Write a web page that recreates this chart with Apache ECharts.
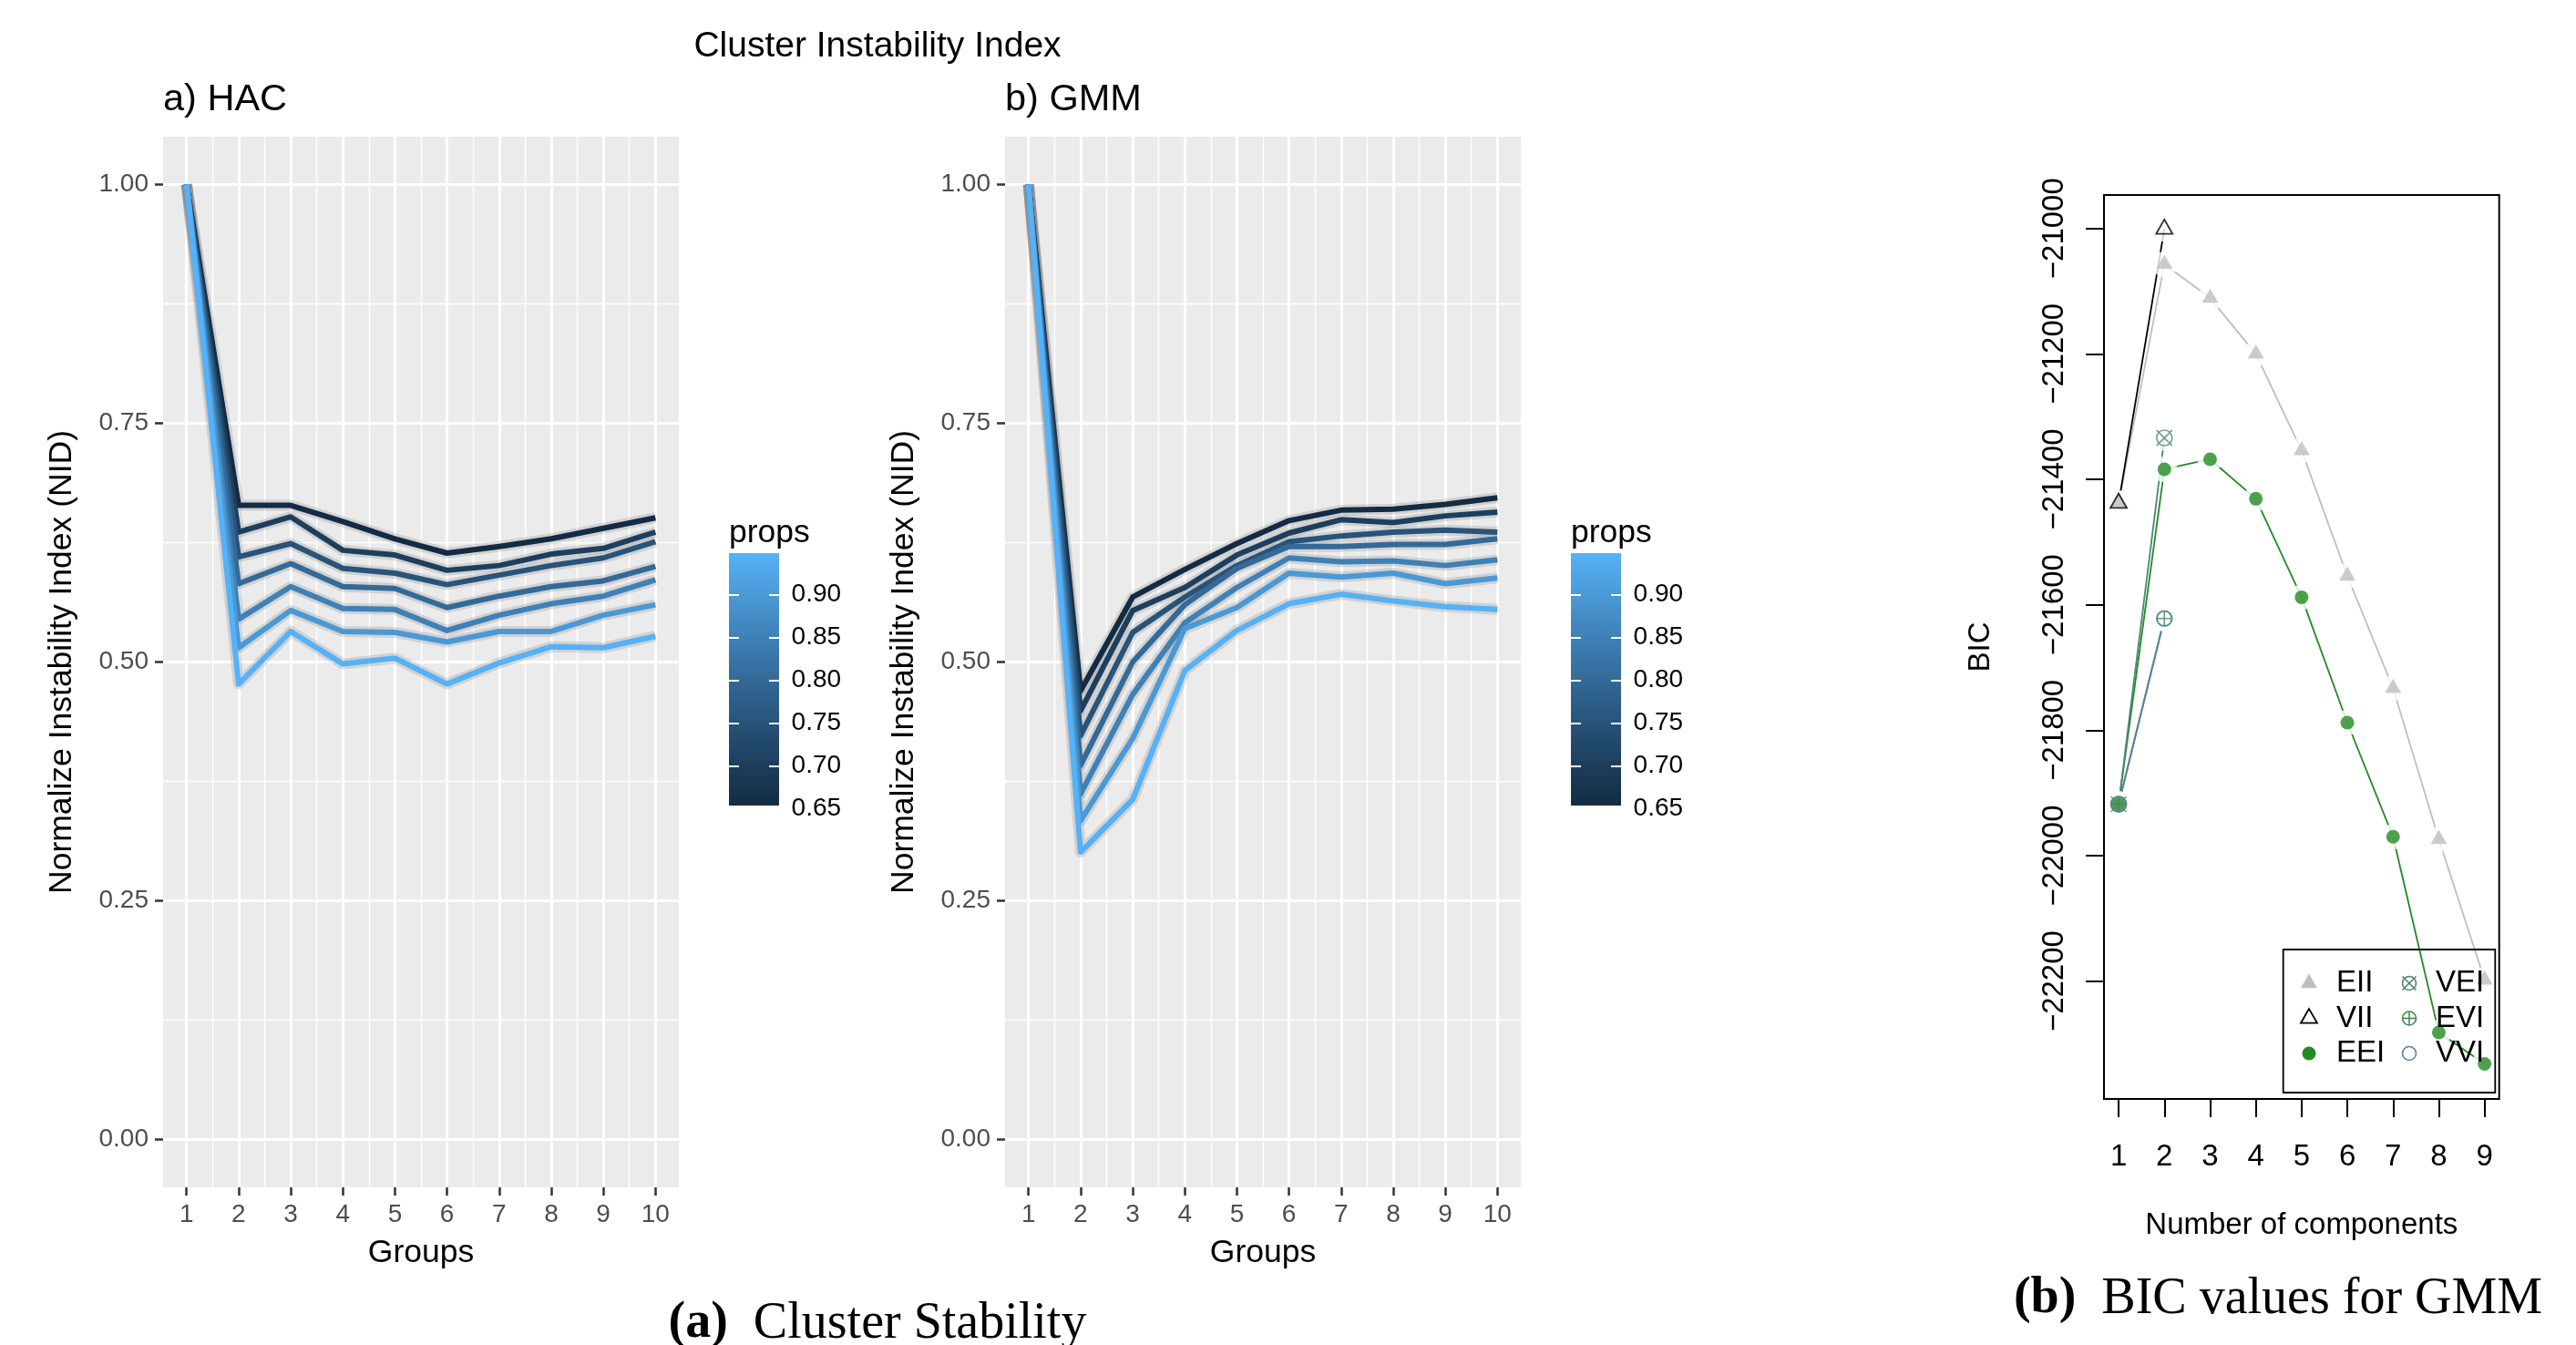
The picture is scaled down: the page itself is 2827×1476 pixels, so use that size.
<!DOCTYPE html>
<html><head><meta charset="utf-8">
<script src="https://cdn.jsdelivr.net/npm/echarts@6/dist/echarts.min.js"></script>
<style>html,body{margin:0;padding:0;background:#fff}#c{width:2827px;height:1476px}</style>
</head><body><div id="c"></div>
<script>
// ---------------- DATA ----------------
const groups = [1, 2, 3, 4, 5, 6, 7, 8, 9, 10];
const props = [0.65, 0.70, 0.75, 0.80, 0.85, 0.90, 0.95];

const hac_065 = [1.000, 0.664, 0.664, 0.647, 0.629, 0.614, 0.621, 0.629, 0.640, 0.651];
const hac_070 = [1.000, 0.636, 0.652, 0.617, 0.612, 0.596, 0.601, 0.613, 0.619, 0.636];
const hac_075 = [1.000, 0.610, 0.624, 0.598, 0.593, 0.581, 0.591, 0.601, 0.609, 0.626];
const hac_080 = [1.000, 0.582, 0.603, 0.579, 0.577, 0.557, 0.569, 0.579, 0.585, 0.600];
const hac_085 = [1.000, 0.545, 0.579, 0.556, 0.555, 0.533, 0.549, 0.561, 0.569, 0.586];
const hac_090 = [1.000, 0.515, 0.554, 0.532, 0.531, 0.521, 0.532, 0.532, 0.549, 0.560];
const hac_095 = [1.000, 0.477, 0.532, 0.498, 0.504, 0.477, 0.499, 0.516, 0.515, 0.527];

const gmm_065 = [1.000, 0.470, 0.568, 0.597, 0.624, 0.648, 0.659, 0.660, 0.665, 0.672];
const gmm_070 = [1.000, 0.449, 0.554, 0.578, 0.612, 0.635, 0.649, 0.646, 0.653, 0.657];
const gmm_075 = [1.000, 0.423, 0.531, 0.568, 0.601, 0.626, 0.632, 0.636, 0.638, 0.636];
const gmm_080 = [1.000, 0.392, 0.500, 0.560, 0.598, 0.621, 0.621, 0.623, 0.623, 0.629];
const gmm_085 = [1.000, 0.362, 0.466, 0.541, 0.578, 0.609, 0.605, 0.606, 0.601, 0.607];
const gmm_090 = [1.000, 0.334, 0.420, 0.535, 0.557, 0.593, 0.589, 0.593, 0.582, 0.588];
const gmm_095 = [1.000, 0.301, 0.356, 0.491, 0.533, 0.561, 0.571, 0.564, 0.558, 0.555];

const components = [1, 2, 3, 4, 5, 6, 7, 8, 9];
const bic_EII = [-21438, -21057, -21111, -21200, -21354, -21554, -21733, -21974, -22198];
const bic_VII = [-21438, -21001, null, null, null, null, null, null, null];
const bic_EEI = [-21918, -21384, -21368, -21431, -21588, -21788, -21970, -22282, -22332];
const bic_VEI = [-21918, -21334, null, null, null, null, null, null, null];
const bic_EVI = [-21918, -21622, null, null, null, null, null, null, null];
const bic_VVI = [-21918, -21622, null, null, null, null, null, null, null];
const bicModels = ['EII', 'VII', 'EEI', 'VEI', 'EVI', 'VVI'];

// ---------------- COLOURS (ggplot2 default gradient, Lab interpolation) ----------------
const LOW = '#132B43', HIGH = '#56B1F7';
function hexToRgb(h){h=h.replace('#','');return [0,2,4].map(i=>parseInt(h.substr(i,2),16));}
function lin(c){c/=255;return c<=0.04045?c/12.92:Math.pow((c+0.055)/1.055,2.4);}
function delin(c){c=c<=0.0031308?12.92*c:1.055*Math.pow(c,1/2.4)-0.055;return Math.max(0,Math.min(255,Math.round(c*255)));}
const WH=[0.95047,1,1.08883];
function toLab(rgb){const [r,g,b]=rgb.map(lin);
  const X=0.4124564*r+0.3575761*g+0.1804375*b, Y=0.2126729*r+0.7151522*g+0.0721750*b, Z=0.0193339*r+0.1191920*g+0.9503041*b;
  const f=t=>t>0.008856?Math.cbrt(t):7.787*t+16/116;
  const fx=f(X/WH[0]),fy=f(Y/WH[1]),fz=f(Z/WH[2]);
  return [116*fy-16,500*(fx-fy),200*(fy-fz)];}
function fromLab([L,a,b]){const fy=(L+16)/116,fx=fy+a/500,fz=fy-b/200;
  const fi=t=>t*t*t>0.008856?t*t*t:(t-16/116)/7.787;
  const X=fi(fx)*WH[0],Y=fi(fy)*WH[1],Z=fi(fz)*WH[2];
  const r=3.2404542*X-1.5371385*Y-0.4985314*Z, g=-0.9692660*X+1.8760108*Y+0.0415560*Z, bb=0.0556434*X-0.2040259*Y+1.0572252*Z;
  return 'rgb('+delin(r)+','+delin(g)+','+delin(bb)+')';}
const LAB_LO=toLab(hexToRgb(LOW)), LAB_HI=toLab(hexToRgb(HIGH));
const PMIN=0.65, PMAX=0.95;
function propColor(p){const t=(p-PMIN)/(PMAX-PMIN);return fromLab(LAB_LO.map((v,i)=>v+(LAB_HI[i]-v)*t));}
const gradientStops=[];
for(let k=0;k<=12;k++){const t=k/12;gradientStops.push({offset:t,color:propColor(PMAX-(PMAX-PMIN)*t)});}

// ---------------- LAYOUT ----------------
const FONT='"Liberation Sans", Arial, Helvetica, sans-serif';
const SERIF='"Liberation Serif", "Times New Roman", serif';
const grids=[],xAxes=[],yAxes=[],series=[],texts=[];
function addGrid(g,xa,ya){grids.push(Object.assign({outerBoundsMode:'none',containLabel:false,show:false},g));
  const gi=grids.length-1;
  xAxes.push(Object.assign({gridIndex:gi,type:'value'},xa));
  yAxes.push(Object.assign({gridIndex:gi,type:'value'},ya));
  return {gi:gi,xi:xAxes.length-1,yi:yAxes.length-1};}
const HID=(mn,mx)=>({show:false,min:mn,max:mx});

function buildPanel(left, sets, title){
  const bg=addGrid({left:left,top:150,width:566,height:1153,show:true,backgroundColor:'#EBEBEB',borderWidth:0},HID(0.55,10.45),HID(-0.05,1.05));
  addGrid({left:left,top:202.4,width:566,height:1048.2},HID(0,1),{
    min:0,max:1,interval:0.25,axisLine:{show:false},
    axisTick:{show:true,length:9,lineStyle:{color:'#333333',width:2.5}},
    axisLabel:{show:true,margin:16,fontSize:28,color:'#4D4D4D',fontFamily:FONT,formatter:v=>v.toFixed(2),showMinLabel:true,showMaxLabel:true},
    splitLine:{show:true,lineStyle:{color:'#FFFFFF',width:3}},
    minorTick:{show:false,splitNumber:2},
    minorSplitLine:{show:true,lineStyle:{color:'#FFFFFF',width:1.4}}});
  addGrid({left:left+25.73,top:150,width:514.55,height:1153},{
    min:1,max:10,interval:1,axisLine:{show:false},
    axisTick:{show:true,length:9,lineStyle:{color:'#333333',width:2.5}},
    axisLabel:{show:true,margin:16,fontSize:28,color:'#4D4D4D',fontFamily:FONT,showMinLabel:true,showMaxLabel:true},
    splitLine:{show:true,lineStyle:{color:'#FFFFFF',width:3}},
    minorTick:{show:false,splitNumber:2},
    minorSplitLine:{show:true,lineStyle:{color:'#FFFFFF',width:1.4}}},HID(0,1));
  sets.forEach(arr=>series.push({type:'line',xAxisIndex:bg.xi,yAxisIndex:bg.yi,silent:true,symbol:'none',z:2,
    data:groups.map((g,j)=>[g,arr[j]]),lineStyle:{width:12,color:'rgba(130,130,130,0.25)',join:'round'}}));
  sets.forEach((arr,i)=>series.push({type:'line',name:String(props[i]),xAxisIndex:bg.xi,yAxisIndex:bg.yi,symbol:'none',z:3,
    data:groups.map((g,j)=>[g,arr[j]]),lineStyle:{width:6,color:propColor(props[i]),join:'round'}}));
  texts.push({type:'text',x:left,y:110,z:10,style:{text:title,fontSize:41.5,fontFamily:FONT,fill:'#000',align:'left',verticalAlign:'middle'}});
  texts.push({type:'text',x:left-110.5,y:726.5,rotation:Math.PI/2,z:10,style:{text:'Normalize Instability Index (NID)',fontSize:35.5,fontFamily:FONT,fill:'#000',align:'center',verticalAlign:'middle'}});
  texts.push({type:'text',x:left+283,y:1375,z:10,style:{text:'Groups',fontSize:35.5,fontFamily:FONT,fill:'#000',align:'center',verticalAlign:'middle'}});
}
function buildColorbar(left){
  addGrid({left:left,top:607,width:55,height:277,show:true,borderWidth:0,
    backgroundColor:{type:'linear',x:0,y:0,x2:0,y2:1,colorStops:gradientStops}},HID(0,1),HID(0,1));
  const tickCommon={min:0.65,max:0.90,interval:0.05,axisLine:{show:false},splitLine:{show:false},
    axisTick:{show:true,inside:true,length:11,lineStyle:{color:'#FFFFFF',width:2}}};
  const g=addGrid({left:left,top:652.5,width:55,height:235},HID(0,1),Object.assign({position:'left',axisLabel:{show:false}},tickCommon));
  yAxes.push(Object.assign({gridIndex:g.gi,type:'value',position:'right',
    axisLabel:{show:true,margin:13.6,fontSize:28,color:'#000',fontFamily:FONT,formatter:v=>v.toFixed(2),showMinLabel:true,showMaxLabel:true}},tickCommon));
  texts.push({type:'text',x:left,y:585,z:10,style:{text:'props',fontSize:35.5,fontFamily:FONT,fill:'#000',align:'left',verticalAlign:'middle'}});
}

buildPanel(179,[hac_065,hac_070,hac_075,hac_080,hac_085,hac_090,hac_095],'a) HAC');
buildColorbar(800);
buildPanel(1103,[gmm_065,gmm_070,gmm_075,gmm_080,gmm_085,gmm_090,gmm_095],'b) GMM');
buildColorbar(1724);

// ---------------- BIC PANEL ----------------
const bicMain=addGrid({left:2309,top:214,width:433.7,height:992,show:true,borderColor:'#000',borderWidth:2,backgroundColor:'transparent'},
  HID(0.68,9.32),HID(-22388,-20946.7));
addGrid({left:2309,top:250.7,width:433.7,height:825.9},HID(0,1),{
  min:-22200,max:-21000,interval:200,axisLine:{show:false},splitLine:{show:false},
  axisTick:{show:true,length:20,lineStyle:{color:'#000',width:2}},
  axisLabel:{show:true,rotate:90,margin:38,fontSize:33,color:'#000',fontFamily:FONT,showMinLabel:true,showMaxLabel:true,
    formatter:v=>(v<0?'\u2212':'')+Math.abs(v)}});
addGrid({left:2325.06,top:214,width:401.6,height:992},{
  min:1,max:9,interval:1,axisLine:{show:false},splitLine:{show:false},
  axisTick:{show:true,length:20,lineStyle:{color:'#000',width:2}},
  axisLabel:{show:true,margin:47.5,fontSize:33,color:'#000',fontFamily:FONT,showMinLabel:true,showMaxLabel:true}},HID(0,1));

const PATH_CX='path://M50,10A40,40 0 1,1 49.99,10Z M10,10L90,90 M90,10L10,90';
const PATH_CP='path://M50,10A40,40 0 1,1 49.99,10Z M10,50L90,50 M50,10L50,90';
const bicStyle={
  EII:{data:bic_EII,line:'#BEBEBE',symbol:'triangle',size:[18,15.6],offset:[0,-2.6],item:{color:'#BEBEBE'}},
  VII:{data:bic_VII,line:'#000000',symbol:'triangle',size:[18,15.6],offset:[0,-2.6],item:{color:'none',borderColor:'#000',borderWidth:1.8}},
  EEI:{data:bic_EEI,line:'#228B22',symbol:'circle',size:15,offset:[0,0],item:{color:'#228B22'}},
  VEI:{data:bic_VEI,line:'#508476',symbol:PATH_CX,size:17,offset:[0,0],item:{color:'none',borderColor:'#508476',borderWidth:1.6}},
  EVI:{data:bic_EVI,line:'#41884F',symbol:PATH_CP,size:17,offset:[0,0],item:{color:'none',borderColor:'#41884F',borderWidth:1.6}},
  VVI:{data:bic_VVI,line:'#58819C',symbol:'circle',size:16,offset:[0,0],item:{color:'none',borderColor:'#58819C',borderWidth:1.6}}
};
const bicPts={};
bicModels.forEach(m=>{bicPts[m]=components.map((c,i)=>[c,bicStyle[m].data[i]]).filter(p=>p[1]!==null);});
// lines with gaps around own points (type "b"), then all point symbols on top
bicModels.forEach(m=>{
  const s=bicStyle[m];
  series.push({type:'line',name:m+' line',xAxisIndex:bicMain.xi,yAxisIndex:bicMain.yi,data:bicPts[m],symbol:'none',silent:true,z:2,
    lineStyle:{color:s.line,width:1.8}});
  series.push({type:'scatter',name:m+' gap',xAxisIndex:bicMain.xi,yAxisIndex:bicMain.yi,data:bicPts[m],symbol:'circle',symbolSize:28,silent:true,z:2,
    itemStyle:{color:'#FFFFFF'}});
});
bicModels.forEach(m=>{
  const s=bicStyle[m];
  series.push({type:'scatter',name:m,xAxisIndex:bicMain.xi,yAxisIndex:bicMain.yi,data:bicPts[m],symbol:s.symbol,symbolSize:s.size,
    symbolOffset:s.offset,z:3,itemStyle:s.item});
});
texts.push({type:'text',x:2174,y:710,rotation:Math.PI/2,z:10,style:{text:'BIC',fontSize:33,fontFamily:FONT,fill:'#000',align:'center',verticalAlign:'middle'}});
texts.push({type:'text',x:2525.8,y:1345,z:10,style:{text:'Number of components',fontSize:33,fontFamily:FONT,fill:'#000',align:'center',verticalAlign:'middle'}});

// legend of BIC plot (two columns, transparent box)
const LZ=100;
const legendEls=[{type:'rect',z:LZ,shape:{x:2505.7,y:1042,width:232.6,height:157},style:{fill:'none',stroke:'#000',lineWidth:1.8}}];
const legRows=[1079,1117.5,1156];
function legSym(m,cx,cy){
  const s=bicStyle[m];
  if(m==='EII'||m==='VII'){
    legendEls.push({type:'polygon',z:LZ,shape:{points:[[cx,cy-10.4],[cx+9,cy+5.2],[cx-9,cy+5.2]]},
      style:m==='EII'?{fill:'#BEBEBE'}:{fill:'none',stroke:'#000',lineWidth:1.8}});
  } else if(m==='EEI'){
    legendEls.push({type:'circle',z:LZ,shape:{cx:cx,cy:cy,r:7.5},style:{fill:'#228B22'}});
  } else {
    const col=s.item.borderColor;
    legendEls.push({type:'circle',z:LZ,shape:{cx:cx,cy:cy,r:7.5},style:{fill:'none',stroke:col,lineWidth:1.6}});
    if(m==='VEI'){
      legendEls.push({type:'line',z:LZ,shape:{x1:cx-7.5,y1:cy-7.5,x2:cx+7.5,y2:cy+7.5},style:{stroke:col,lineWidth:1.6}});
      legendEls.push({type:'line',z:LZ,shape:{x1:cx+7.5,y1:cy-7.5,x2:cx-7.5,y2:cy+7.5},style:{stroke:col,lineWidth:1.6}});
    } else if(m==='EVI'){
      legendEls.push({type:'line',z:LZ,shape:{x1:cx-7.5,y1:cy,x2:cx+7.5,y2:cy},style:{stroke:col,lineWidth:1.6}});
      legendEls.push({type:'line',z:LZ,shape:{x1:cx,y1:cy-7.5,x2:cx,y2:cy+7.5},style:{stroke:col,lineWidth:1.6}});
    }
  }
}
bicModels.forEach((m,i)=>{
  const col=Math.floor(i/3),row=i%3;
  const sx=col===0?2534:2644, tx=col===0?2564:2673;
  legSym(m,sx,legRows[row]);
  legendEls.push({type:'text',z:LZ,x:tx,y:legRows[row],style:{text:m,fontSize:33,fontFamily:FONT,fill:'#000',align:'left',verticalAlign:'middle'}});
});

// titles and captions
texts.push({type:'text',x:963,y:51,z:10,style:{text:'Cluster Instability Index',fontSize:39,fontFamily:FONT,fill:'#000',align:'center',verticalAlign:'middle'}});
texts.push({type:'text',x:963,y:1453,z:10,style:{text:'{b|(a)}  Cluster Stability',fontSize:56,fontFamily:SERIF,fill:'#000',align:'center',verticalAlign:'middle',
  rich:{b:{fontWeight:'bold',fontSize:56,fontFamily:SERIF,fill:'#000'}}}});
texts.push({type:'text',x:2500,y:1426,z:10,style:{text:'{b|(b)}  BIC values for GMM',fontSize:56,fontFamily:SERIF,fill:'#000',align:'center',verticalAlign:'middle',
  rich:{b:{fontWeight:'bold',fontSize:56,fontFamily:SERIF,fill:'#000'}}}});

const chart=echarts.init(document.getElementById('c'),null,{renderer:'canvas'});
chart.setOption({
  animation:false,
  backgroundColor:'#FFFFFF',
  grid:grids,xAxis:xAxes,yAxis:yAxes,series:series,
  graphic:{elements:texts.concat(legendEls)}
});
</script></body></html>
